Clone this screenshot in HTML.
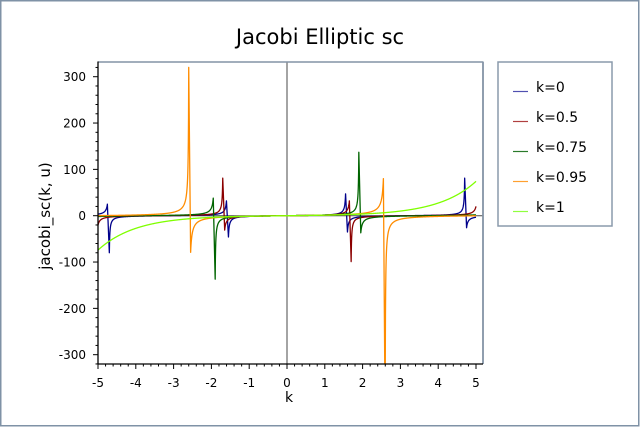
<!DOCTYPE html>
<html>
<head>
<meta charset="utf-8">
<style>
  html,body{margin:0;padding:0;background:#fff;}
  svg{display:block;}
  text{font-family:"DejaVu Sans","Liberation Sans",sans-serif;fill:#000;}
</style>
</head>
<body>
<svg id="chart" width="640" height="427" viewBox="0 0 640 427" xmlns="http://www.w3.org/2000/svg">
  <rect x="0" y="0" width="640" height="427" fill="#fff"/>
  <rect x="0.75" y="0.75" width="638" height="425" fill="none" stroke="#7f92a6" stroke-width="1.5"/>

  <text x="320" y="44" font-size="21" text-anchor="middle">Jacobi Elliptic sc</text>

  <defs>
    <clipPath id="plotclip"><rect x="98" y="62" width="385" height="302"/></clipPath>
  </defs>

  <!-- zero lines -->
  <line x1="287" y1="62" x2="287" y2="364" stroke="#4a4a4a" stroke-width="1"/>
  <line x1="98" y1="215.7" x2="483" y2="215.7" stroke="#4a4a4a" stroke-width="1"/>

  <g id="series" clip-path="url(#plotclip)" fill="none" stroke-width="1.3" stroke-linejoin="round"></g>

  <!-- frame top/right -->
  <line x1="98" y1="62" x2="483.5" y2="62" stroke="#8494a6" stroke-width="1.5"/>
  <line x1="483" y1="62" x2="483" y2="364" stroke="#8494a6" stroke-width="1.8"/>
  <!-- axes -->
  <line x1="98" y1="61.5" x2="98" y2="364.5" stroke="#000" stroke-width="1.3"/>
  <line x1="97.5" y1="364" x2="483" y2="364" stroke="#000" stroke-width="1.3"/>
  <g id="ticks" stroke="#000" stroke-width="1"></g>
  <g id="labels" font-size="12"></g>

  <text x="289" y="402" font-size="14" text-anchor="middle">k</text>
  <text transform="translate(50,216) rotate(-90)" font-size="15" text-anchor="middle">jacobi_sc(k, u)</text>

  <!-- legend -->
  <rect x="498" y="62" width="114" height="164" fill="#fff" stroke="#8a9aac" stroke-width="1.5"/>
  <g stroke-width="1.2">
    <line x1="513" y1="91.5" x2="528" y2="91.5" stroke="#5050b0"/>
    <line x1="513" y1="121.5" x2="528" y2="121.5" stroke="#b04040"/>
    <line x1="513" y1="151.5" x2="528" y2="151.5" stroke="#2a7a2a"/>
    <line x1="513" y1="181.5" x2="528" y2="181.5" stroke="#ffa030"/>
    <line x1="513" y1="211.5" x2="528" y2="211.5" stroke="#90ff40"/>
  </g>
  <g font-size="14">
    <text x="536" y="92">k=0</text>
    <text x="536" y="122">k=0.5</text>
    <text x="536" y="152">k=0.75</text>
    <text x="536" y="182">k=0.95</text>
    <text x="536" y="212">k=1</text>
  </g>
</svg>
<script>
(function(){
  var NS="http://www.w3.org/2000/svg";
  function X(u){return 287+u*37.8;}
  function Y(v){return 215.7-v*0.4633;}
  function el(name,attrs,parent,txt){
    var e=document.createElementNS(NS,name);
    for(var a in attrs)e.setAttribute(a,attrs[a]);
    if(txt!==undefined)e.textContent=txt;
    parent.appendChild(e);return e;
  }
  var ticks=document.getElementById('ticks');
  var labels=document.getElementById('labels');
  // y ticks
  for(var v=-320;v<=320;v+=20){
    var y=Y(v);
    if(y<62||y>364.5)continue;
    var major=(v%100===0);
    el('line',{x1:major?93:95.5,y1:y,x2:98,y2:y},ticks);
    if(major){
      el('text',{x:86,y:y+4.4,'text-anchor':'end'},labels,String(v));
    }
  }
  // x ticks
  for(var i=-25;i<=26;i++){
    var u=i/5; var x=X(u);
    if(x<97.5||x>483)continue;
    var major=(i%5===0);
    el('line',{x1:x,y1:364,x2:x,y2:major?369:366.5},ticks);
    if(major){
      el('text',{x:x,y:387,'text-anchor':'middle'},labels,String(u));
    }
  }
  // elliptic
  function agmK(k){
    var a=1,b=Math.sqrt(1-k*k);
    for(var i=0;i<40;i++){var a1=(a+b)/2,b1=Math.sqrt(a*b);a=a1;b=b1;}
    return Math.PI/(2*a);
  }
  function sc(u,k){
    if(k===0)return Math.tan(u);
    if(k===1)return Math.sinh(u);
    var a=[1],c=[k];var an=1,bn=Math.sqrt(1-k*k),n=0;
    while(Math.abs(c[n])>1e-15&&n<25){
      var a1=(an+bn)/2,b1=Math.sqrt(an*bn),c1=(an-bn)/2;
      an=a1;bn=b1;n++;a.push(an);c.push(c1);
    }
    var phi=Math.pow(2,n)*a[n]*u;
    for(var j=n;j>=1;j--){
      var s=c[j]/a[j]*Math.sin(phi);
      if(s>1)s=1;if(s<-1)s=-1;
      phi=(phi+Math.asin(s))/2;
    }
    return Math.tan(phi);
  }
  function solve(lo,hi,target,k){
    // f increasing on (lo,hi)
    for(var i=0;i<200;i++){
      var mid=(lo+hi)/2;
      if(sc(mid,k)<target)lo=mid;else hi=mid;
    }
    return (lo+hi)/2;
  }
  var series=[
    {k:0,color:'#00008b',poles:[[-3,25,-80],[-1,32,-46],[1,47,-35],[3,81,-26]]},
    {k:0.5,color:'#8b0000',poles:[[-1,81,-31],[1,32,-99]]},
    {k:0.75,color:'#006400',poles:[[-1,38,-137],[1,137,-37]]},
    {k:0.95,color:'#ff8c00',poles:[[-1,320,-79],[1,80,-450]]},
    {k:1,color:'#7fff00',poles:[]}
  ];
  var g=document.getElementById('series');
  series.forEach(function(s){
    var K=(s.k===0)?Math.PI/2:(s.k===1?Infinity:agmK(s.k));
    var cuts=[];
    s.poles.forEach(function(pp){
      var p=pp[0]*K;
      var xL=solve(p-K+1e-9,p-1e-12,pp[1],s.k);
      var xR=solve(p+1e-12,p+K-1e-9,pp[2],s.k);
      cuts.push([xL,xR,pp[1],pp[2]]);
    });
    var pts=[];
    var step=0.005;
    for(var i=0;i<=2000;i++){
      var x=-5+i*step;
      var inside=false;
      for(var c=0;c<cuts.length;c++){if(x>=cuts[c][0]&&x<=cuts[c][1]){inside=true;break;}}
      if(!inside)pts.push([x,sc(x,s.k)]);
    }
    cuts.forEach(function(c){pts.push([c[0],c[2]]);pts.push([c[1],c[3]]);});
    pts.sort(function(a,b){return a[0]-b[0];});
    var d='';
    for(var j=0;j<pts.length;j++){
      var v=pts[j][1];
      if(v>2000)v=2000;if(v<-2000)v=-2000;
      d+=(j===0?'M':'L')+X(pts[j][0]).toFixed(2)+' '+Y(v).toFixed(2);
    }
    el('path',{d:d,stroke:s.color},g);
  });
})();
</script>
</body>
</html>
